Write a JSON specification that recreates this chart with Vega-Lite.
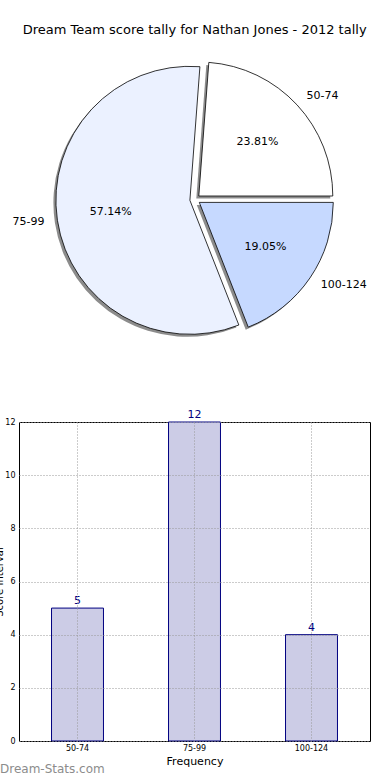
{
  "$schema": "https://vega.github.io/schema/vega-lite/v6.json",
  "autosize": {"type": "pad"},
  "padding": {"left": -6, "top": 23, "right": 0, "bottom": 0},
  "bounds": "flush",
  "spacing": 84,
  "config": {"font": "DejaVu Sans", "background": "white"},
  "title": {"text": "Dream Team score tally for Nathan Jones - 2012 tally", "fontSize": 13, "fontWeight": "normal", "color": "#000", "anchor": "middle", "dx": 12, "offset": 24},
  "data": {"values": [
    {"range": "50-74", "count": 5, "idx": 1, "pct": "23.81%"},
    {"range": "75-99", "count": 12, "idx": 2, "pct": "57.14%"},
    {"range": "100-124", "count": 4, "idx": 3, "pct": "19.05%"}
  ]},
  "vconcat": [
    {
      "width": 352,
      "height": 277,
      "view": {"stroke": null},
      "encoding": {
        "theta": {"field": "count", "type": "quantitative", "stack": true, "scale": {"range": [1.5708, -4.7124]}},
        "order": {"field": "idx", "type": "quantitative"}
      },
      "layer": [
        {"mark": {"type": "arc", "radius": 134, "fill": "#000", "opacity": 0.45,
          "xOffset": {"expr": "datum.range === '50-74' ? 1.3 : datum.range === '75-99' ? -7.6 : 1.8"},
          "yOffset": {"expr": "datum.range === '50-74' ? -1 : datum.range === '75-99' ? 3.3 : 5.4"}}},
        {"mark": {"type": "arc", "radius": 134, "stroke": "#000", "strokeWidth": 0.8,
          "xOffset": {"expr": "datum.range === '50-74' ? 3.8 : datum.range === '75-99' ? -5.1 : 4.3"},
          "yOffset": {"expr": "datum.range === '50-74' ? -3.5 : datum.range === '75-99' ? 0.8 : 2.9"}},
          "encoding": {"color": {"field": "range", "type": "nominal", "legend": null,
            "scale": {"domain": ["50-74", "75-99", "100-124"], "range": ["#ffffff", "#ebf1ff", "#c6d9ff"]}}}},
        {"mark": {"type": "text", "radius": 80, "fontSize": 11, "color": "#000",
          "xOffset": {"expr": "datum.range === '50-74' ? 3.8 : datum.range === '75-99' ? -5.1 : 4.3"},
          "yOffset": {"expr": "datum.range === '50-74' ? -3.5 : datum.range === '75-99' ? 0.8 : 2.9"}},
          "encoding": {"text": {"field": "pct"}}},
        {"mark": {"type": "text", "radius": 147, "fontSize": 11, "color": "#000",
          "align": {"expr": "datum.range === '75-99' ? 'right' : 'left'"},
          "xOffset": {"expr": "datum.range === '50-74' ? 3.8 : datum.range === '75-99' ? -5.1 : 4.3"},
          "yOffset": {"expr": "datum.range === '50-74' ? -3.5 : datum.range === '75-99' ? 0.8 : 2.9"}},
          "encoding": {"text": {"field": "range"}}}
      ]
    },
    {
      "width": 351,
      "height": 319,
      "view": {"stroke": "#000", "strokeWidth": 1},
      "title": {"text": "Dream-Stats.com", "orient": "bottom", "anchor": "start", "frame": "group", "fontSize": 12, "fontWeight": "normal", "color": "#8c8c8c", "dx": -19, "offset": -2},
      "encoding": {
        "x": {"field": "range", "type": "nominal", "sort": ["50-74", "75-99", "100-124"],
          "scale": {"paddingInner": 0.556, "paddingOuter": 0.278},
          "axis": {"title": "Frequency", "titleFontSize": 11, "titleFontWeight": "normal", "titleColor": "#000", "titlePadding": 3,
            "labelAngle": 0, "labelFontSize": 8, "labelColor": "#000", "labelPadding": 3, "ticks": false, "domain": false,
            "grid": true, "gridColor": "#999999", "gridDash": [1, 2], "zindex": 1}},
        "y": {"field": "count", "type": "quantitative", "scale": {"domain": [0, 12], "nice": false},
          "axis": {"title": "Score Interval", "titleFontSize": 10, "titleFontWeight": "normal", "titleColor": "#000", "titlePadding": 0,
            "values": [0, 2, 4, 6, 8, 10, 12], "labelFontSize": 8, "labelColor": "#000", "labelPadding": 4, "ticks": false, "domain": false,
            "grid": true, "gridColor": "#999999", "gridDash": [1, 2], "zindex": 1}}
      },
      "layer": [
        {"mark": {"type": "bar", "fill": "#ccccE6", "stroke": "#000080", "strokeWidth": 1}},
        {"mark": {"type": "text", "dy": -7, "color": "#000080", "fontSize": 11}, "encoding": {"text": {"field": "count", "type": "quantitative"}}}
      ]
    }
  ]
}
